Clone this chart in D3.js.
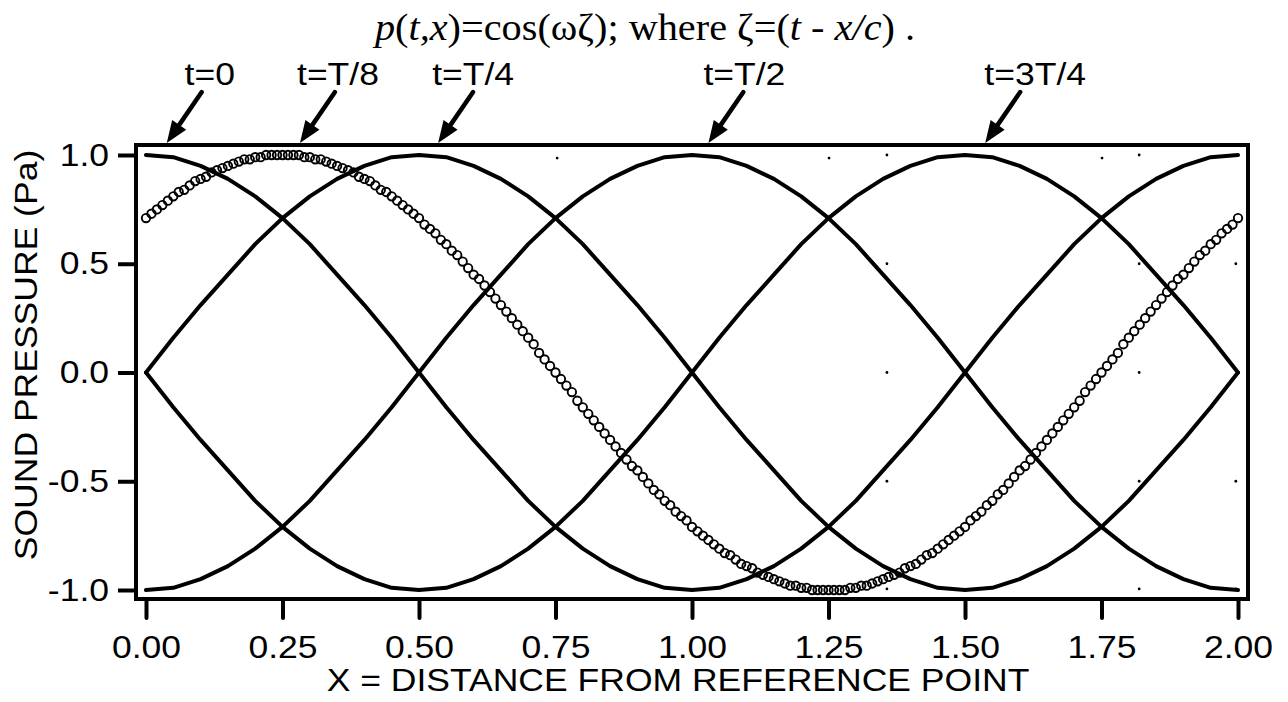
<!DOCTYPE html>
<html>
<head>
<meta charset="utf-8">
<script src="https://cdn.jsdelivr.net/npm/d3@7"></script>
<style>
  html, body { margin: 0; padding: 0; background: #fff; }
  svg { display: block; }
</style>
</head>
<body>
<svg id="chart" width="1288" height="702"></svg>
<script>
// ---------------- data ----------------
const xTicks = [0, 0.25, 0.5, 0.75, 1.0, 1.25, 1.5, 1.75, 2.0];
const xTickLabels = ["0.00", "0.25", "0.50", "0.75", "1.00", "1.25", "1.50", "1.75", "2.00"];
const yTicks = [-1.0, -0.5, 0.0, 0.5, 1.0];
const yTickLabels = ["-1.0", "-0.5", "0.0", "0.5", "1.0"];

// solid curves sampled every 0.05 along x
const lineX = [0,0.05,0.10,0.15,0.20,0.25,0.30,0.35,0.40,0.45,0.50,0.55,0.60,0.65,0.70,0.75,0.80,0.85,0.90,0.95,
  1.00,1.05,1.10,1.15,1.20,1.25,1.30,1.35,1.40,1.45,1.50,1.55,1.60,1.65,1.70,1.75,1.80,1.85,1.90,1.95,2.00];
const lineT0 = [1.00,0.99,0.95,0.89,0.81,0.71,0.59,0.45,0.31,0.16,0.00,-0.16,-0.31,-0.45,-0.59,-0.71,-0.81,-0.89,-0.95,-0.99,
  -1.00,-0.99,-0.95,-0.89,-0.81,-0.71,-0.59,-0.45,-0.31,-0.16,0.00,0.16,0.31,0.45,0.59,0.71,0.81,0.89,0.95,0.99,1.00];
const lineT4 = [0.00,0.16,0.31,0.45,0.59,0.71,0.81,0.89,0.95,0.99,1.00,0.99,0.95,0.89,0.81,0.71,0.59,0.45,0.31,0.16,
  0.00,-0.16,-0.31,-0.45,-0.59,-0.71,-0.81,-0.89,-0.95,-0.99,-1.00,-0.99,-0.95,-0.89,-0.81,-0.71,-0.59,-0.45,-0.31,-0.16,0.00];
const lineT2 = [-1.00,-0.99,-0.95,-0.89,-0.81,-0.71,-0.59,-0.45,-0.31,-0.16,0.00,0.16,0.31,0.45,0.59,0.71,0.81,0.89,0.95,0.99,
  1.00,0.99,0.95,0.89,0.81,0.71,0.59,0.45,0.31,0.16,0.00,-0.16,-0.31,-0.45,-0.59,-0.71,-0.81,-0.89,-0.95,-0.99,-1.00];
const line3T4 = [0.00,-0.16,-0.31,-0.45,-0.59,-0.71,-0.81,-0.89,-0.95,-0.99,-1.00,-0.99,-0.95,-0.89,-0.81,-0.71,-0.59,-0.45,-0.31,-0.16,
  0.00,0.16,0.31,0.45,0.59,0.71,0.81,0.89,0.95,0.99,1.00,0.99,0.95,0.89,0.81,0.71,0.59,0.45,0.31,0.16,0.00];

// open-circle series t=T/8, one marker every 0.01 along x (x = index / 100)
const circleT8 = [
  0.71,0.73,0.75,0.77,0.79,0.81,0.83,0.84,0.86,0.88,0.89,0.90,0.92,0.93,0.94,0.95,0.96,0.97,0.98,0.98,0.99,0.99,1.00,1.00,1.00,
  1.00,1.00,1.00,1.00,0.99,0.99,0.98,0.98,0.97,0.96,0.95,0.94,0.93,0.92,0.90,0.89,0.88,0.86,0.84,0.83,0.81,0.79,0.77,0.75,0.73,
  0.71,0.68,0.66,0.64,0.61,0.59,0.56,0.54,0.51,0.48,0.45,0.43,0.40,0.37,0.34,0.31,0.28,0.25,0.22,0.19,0.16,0.13,0.09,0.06,0.03,0.00,
  -0.03,-0.06,-0.09,-0.13,-0.16,-0.19,-0.22,-0.25,-0.28,-0.31,-0.34,-0.37,-0.40,-0.43,-0.45,-0.48,-0.51,-0.54,-0.56,-0.59,
  -0.61,-0.64,-0.66,-0.68,-0.71,-0.73,-0.75,-0.77,-0.79,-0.81,-0.83,-0.84,-0.86,-0.88,-0.89,-0.90,-0.92,-0.93,-0.94,-0.95,
  -0.96,-0.97,-0.98,-0.98,-0.99,-0.99,-1.00,-1.00,-1.00,-1.00,
  -1.00,-1.00,-1.00,-0.99,-0.99,-0.98,-0.98,-0.97,-0.96,-0.95,-0.94,-0.93,-0.92,-0.90,-0.89,-0.88,-0.86,-0.84,-0.83,-0.81,
  -0.79,-0.77,-0.75,-0.73,-0.71,-0.68,-0.66,-0.64,-0.61,-0.59,-0.56,-0.54,-0.51,-0.48,-0.45,-0.43,-0.40,-0.37,-0.34,-0.31,
  -0.28,-0.25,-0.22,-0.19,-0.16,-0.13,-0.09,-0.06,-0.03,0.00,
  0.03,0.06,0.09,0.13,0.16,0.19,0.22,0.25,0.28,0.31,0.34,0.37,0.40,0.43,0.45,0.48,0.51,0.54,0.56,0.59,0.61,0.64,0.66,0.68,0.71
];

// annotation labels and the x each arrow points to
const annLabels = ["t=0", "t=T/8", "t=T/4", "t=T/2", "t=3T/4"];
const annX = [0.038, 0.282, 0.535, 1.030, 1.537];

// stray grid dots visible in the plot area
const dotX = [1.251, 1.357, 1.751, 1.819, 1.357, 1.819, 1.996, 1.357, 1.819, 1.357, 1.819, 1.996, 1.357, 1.819, 1.996, 0.753];
const dotY = [0.986, 1.00, 0.986, 1.00, 0.5, 0.5, 0.5, 0.0, 0.0, -0.5, -0.5, -0.5, -0.995, -0.995, -0.995, 0.986];

// ---------------- drawing ----------------
const svg = d3.select("#chart");
const x = d3.scaleLinear().domain([0, 2]).range([146, 1238]);
const y = d3.scaleLinear().domain([-1, 1]).range([590, 155]);

const frameL = 136, frameR = 1248, frameT = 145, frameB = 599;
const AW = 4;
const SX = 1.11; // horizontal stretch of the sans lettering
const sans = "'Liberation Sans', Arial, Helvetica, sans-serif";

function sansText(cx, cy, txt, rot) {
  return svg.append("text")
    .attr("transform", `translate(${cx},${cy})${rot ? " rotate(" + rot + ")" : ""} scale(${SX},1)`)
    .attr("text-anchor", "middle")
    .attr("font-family", sans).attr("font-size", 32).attr("fill", "#000")
    .text(txt);
}

// title
const title = svg.append("text")
  .attr("transform", "translate(645,40) scale(1.06,1)")
  .attr("text-anchor", "middle")
  .attr("font-family", "'Liberation Serif', 'Times New Roman', serif")
  .attr("font-size", 38)
  .attr("fill", "#000");
[["p", true], ["(", false], ["t,x", true], [")=cos(ωζ); where ζ=(", false], ["t", true], [" - ", false], ["x/c", true], [") .", false]]
  .forEach(([s, it]) => title.append("tspan").text(s).attr("font-style", it ? "italic" : "normal"));

// curves
const lineGen = d3.line().x((d, i) => x(lineX[i])).y(d => y(d)).curve(d3.curveLinear);
[lineT0, lineT4, lineT2, line3T4].forEach(s => {
  svg.append("path").attr("d", lineGen(s))
    .attr("fill", "none").attr("stroke", "#000")
    .attr("stroke-width", 4).attr("stroke-linejoin", "round").attr("stroke-linecap", "round");
});

// circles
svg.append("g").selectAll("circle").data(circleT8).join("circle")
  .attr("cx", (d, i) => x(i / 100)).attr("cy", d => y(d))
  .attr("r", 4.2).attr("fill", "none").attr("stroke", "#000").attr("stroke-width", 1.9);

// dots
svg.append("g").selectAll("circle").data(dotX).join("circle")
  .attr("cx", d => x(d)).attr("cy", (d, i) => y(dotY[i]))
  .attr("r", 1.4).attr("fill", "#000");

// frame / axes lines
const frame = svg.append("g").attr("stroke", "#000").attr("stroke-width", AW).attr("stroke-linecap", "square");
frame.append("line").attr("x1", frameL).attr("x2", frameR).attr("y1", frameT).attr("y2", frameT);
frame.append("line").attr("x1", frameR).attr("x2", frameR).attr("y1", frameT + 4).attr("y2", frameB - 3);
frame.append("line").attr("x1", frameL).attr("x2", frameL).attr("y1", frameT + 4).attr("y2", frameB - 3);
frame.append("line").attr("x1", frameL).attr("x2", frameR).attr("y1", frameB).attr("y2", frameB);

// axes with d3
const yAxis = d3.axisLeft(y).tickValues(yTicks).tickFormat((d, i) => yTickLabels[i])
  .tickSizeInner(18).tickSizeOuter(0).tickPadding(10);
const gy = svg.append("g").attr("transform", `translate(${frameL},0)`).call(yAxis);
gy.select(".domain").remove();
gy.selectAll(".tick line").attr("stroke", "#000").attr("stroke-width", AW);
gy.selectAll(".tick text").attr("font-family", sans).attr("font-size", 32).attr("fill", "#000")
  .attr("x", -27 / SX).attr("transform", `scale(${SX},1)`);

const xAxis = d3.axisBottom(x).tickValues(xTicks).tickFormat((d, i) => xTickLabels[i])
  .tickSizeInner(19).tickSizeOuter(0).tickPadding(17);
const gx = svg.append("g").attr("transform", `translate(0,${frameB})`).call(xAxis);
gx.select(".domain").remove();
gx.selectAll(".tick line").attr("stroke", "#000").attr("stroke-width", AW).attr("stroke-linecap", "round");
gx.selectAll(".tick text").attr("font-family", sans).attr("font-size", 32).attr("fill", "#000")
  .attr("transform", `scale(${SX},1)`);

// axis titles
sansText(678, 691, "X = DISTANCE FROM REFERENCE POINT");
sansText(37, 355, "SOUND PRESSURE (Pa)", -90);

// annotation arrows
const labelDx = [8, 3, 0, 1, 15];
annLabels.forEach((lab, i) => {
  const tipX = x(annX[i]), tipY = 143;
  const tailX = tipX + 35, tailY = 92;
  const ang = Math.atan2(tipY - tailY, tipX - tailX);
  const hl = 22, hw = 8.5;
  const bx = tipX - hl * Math.cos(ang), by = tipY - hl * Math.sin(ang);
  svg.append("line").attr("x1", tailX).attr("y1", tailY).attr("x2", bx).attr("y2", by)
    .attr("stroke", "#000").attr("stroke-width", 4.5).attr("stroke-linecap", "round");
  const px = -Math.sin(ang), py = Math.cos(ang);
  svg.append("path")
    .attr("d", `M${tipX},${tipY}L${bx + px * hw},${by + py * hw}L${bx - px * hw},${by - py * hw}Z`)
    .attr("fill", "#000");
  sansText(tailX + labelDx[i], 85, lab);
});
</script>
</body>
</html>
